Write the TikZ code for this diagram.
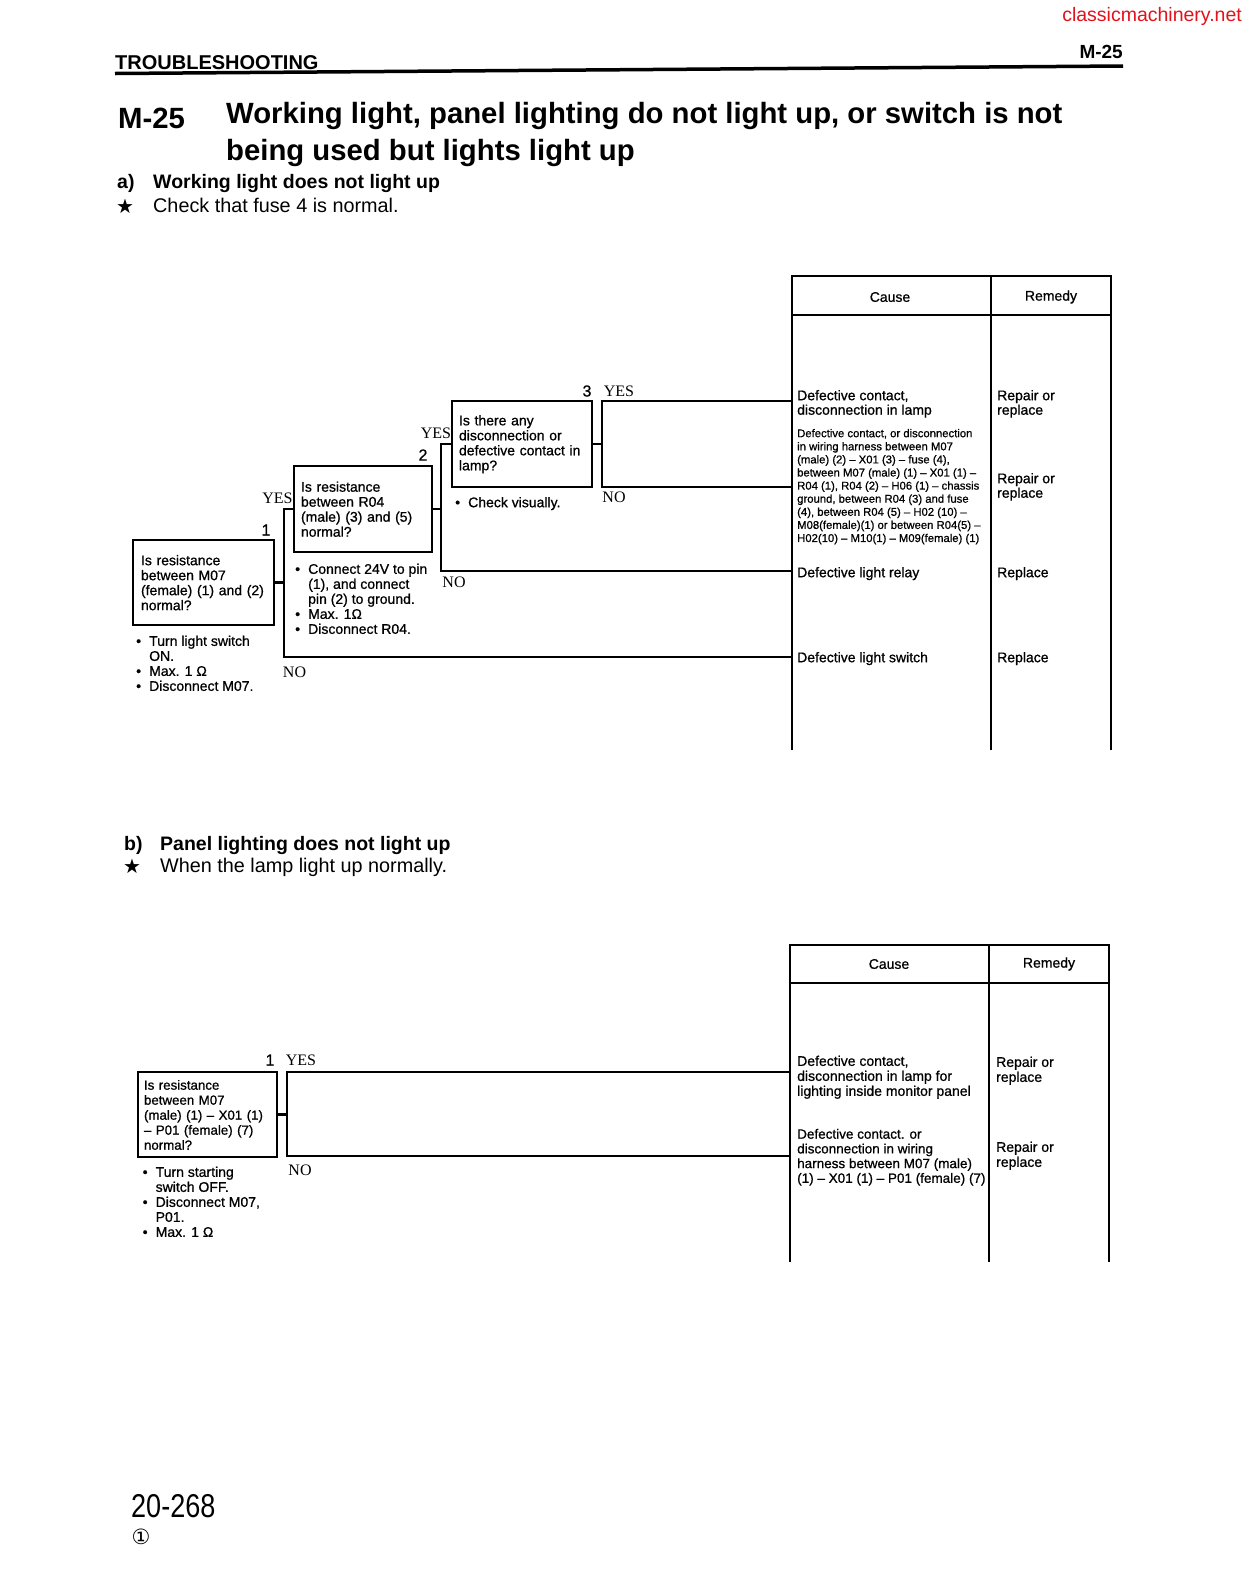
\documentclass[tikz,border=0pt]{standalone}
\usepackage{fontspec}
\setmainfont{Liberation Sans}
\newfontfamily\ynserif{Liberation Serif}
\newfontfamily\narrowfont[FakeStretch=0.82]{Liberation Sans}
\newfontfamily\medfont[FakeBold=0.8]{Liberation Sans}
\newfontfamily\symfont{DejaVu Sans}
\definecolor{wmred}{RGB}{226,18,28}
\newcommand\boxfont{\medfont\fontsize{14}{15}\selectfont}
\newcommand\causefont{\medfont\fontsize{14}{14.5}\selectfont}
\newcommand\smallfont{\medfont\fontsize{11.3}{13.1}\selectfont}
\newcommand\ynfont{\ynserif\fontsize{16}{16}\selectfont}
\newcommand\bul{\makebox[13pt][l]{\textbullet}}
\newcommand\ind{\hspace*{13pt}}
\tikzset{
  qbox/.style={draw, line width=2.7pt, outer sep=0pt, inner ysep=0pt, align=left,
    font=\boxfont, anchor=north west, execute at begin node=\strut},
  txt/.style={inner sep=0pt, anchor=north west, align=left, execute at begin node=\strut},
  yn/.style={font=\ynfont, inner sep=0pt},
  num/.style={font=\medfont\fontsize{16}{16}\selectfont, inner sep=0pt},
  link/.style={line width=2.2pt},
  tab/.style={line width=2.4pt},
}
\begin{document}
\begin{tikzpicture}[x=1pt,y=-1pt]
  \path[fill=white, use as bounding box] (0,0) rectangle (1252,1596);
  % page head
  \node[anchor=base east, text=wmred, inner sep=0pt, font=\fontsize{19.5}{19.5}\selectfont] (site) at (1242,21) {classicmachinery.net};
  \node[anchor=base west, inner sep=0pt, font=\bfseries\fontsize{20}{20}\selectfont] (head) at (115,69) {TROUBLESHOOTING};
  \node[anchor=base east, inner sep=0pt, font=\bfseries\fontsize{19}{19}\selectfont] (code) at (1123,58) {M-25};
  \draw[line width=3.5pt] (115,73.5) -- (1123,66);
  \node[anchor=base west, inner sep=0pt, font=\bfseries\fontsize{29.3}{37}\selectfont] (tcode) at (118,128) {M-25};
  \node[txt, font=\bfseries\fontsize{29.3}{37}\selectfont] (title) at (226,102.1) {Working light, panel lighting do not light up, or switch is not\\being used but lights light up};
  \node[anchor=base west, inner sep=0pt, font=\bfseries\fontsize{19.5}{19.5}\selectfont] (pa) at (117,188) {a)};
  \node[anchor=base west, inner sep=0pt, font=\bfseries\fontsize{19.5}{19.5}\selectfont] (pahead) at (153,188) {Working light does not light up};
  \node[anchor=base west, inner sep=0pt, font=\symfont\fontsize{20}{20}\selectfont] (pastar) at (116,213) {★};
  \node[anchor=base west, inner sep=0pt, font=\fontsize{19.8}{19.8}\selectfont] (panote) at (153,212) {Check that fuse 4 is normal.};

  % a) table
  \draw[tab] (792,750) -- (792,276) -- (1111,276) -- (1111,750);
  \draw[tab] (991,276) -- (991,750);
  \draw[tab] (792,315) -- (1111,315);
  \node[font=\causefont, inner sep=0pt] (hcause) at (890,297) {Cause};
  \node[font=\causefont, inner sep=0pt] (hremedy) at (1051,297) {Remedy};
  \node[txt, font=\causefont] (c1) at (797,389.85) {Defective contact,\\disconnection in lamp};
  \node[txt, font=\causefont] (r1) at (997,389.85) {Repair or\\replace};
  \node[txt, font=\smallfont] (c2) at (797,428.8) {Defective contact, or disconnection\\in wiring harness between M07\\(male) (2) – X01 (3) – fuse (4),\\between M07 (male) (1) – X01 (1) –\\R04 (1), R04 (2) – H06 (1) – chassis\\ground, between R04 (3) and fuse\\(4), between R04 (5) – H02 (10) –\\M08(female)(1) or between R04(5) –\\H02(10) – M10(1) – M09(female) (1)};
  \node[txt, font=\causefont] (r2) at (997,472.85) {Repair or\\replace};
  \node[txt, font=\causefont] (c3) at (797,566.85) {Defective light relay};
  \node[txt, font=\causefont] (r3) at (997,566.85) {Replace};
  \node[txt, font=\causefont] (c4) at (797,651.85) {Defective light switch};
  \node[txt, font=\causefont] (r4) at (997,651.85) {Replace};
  \coordinate (ta1) at (792,401);
  \coordinate (ta2) at (792,487);
  \coordinate (ta3) at (792,571);
  \coordinate (ta4) at (792,657);

  % a) checks
  \node[qbox, inner xsep=8pt, text width=125pt, minimum height=85pt] (q1) at (133,540) {Is resistance\\between M07\\(female) (1) and (2)\\normal?};
  \node[txt, font=\boxfont] (n1) at (136,635.5) {\bul Turn light switch\\\ind ON.\\\bul Max. 1 Ω\\\bul Disconnect M07.};
  \node[qbox, inner xsep=7pt, text width=124pt, minimum height=86pt] (q2) at (294,466) {Is resistance\\between R04\\(male) (3) and (5)\\normal?};
  \node[txt, font=\boxfont] (n2) at (295,563.5) {\bul Connect 24V to pin\\\ind (1), and connect\\\ind pin (2) to ground.\\\bul Max. 1Ω\\\bul Disconnect R04.};
  \node[qbox, inner xsep=7pt, text width=126pt, minimum height=86pt] (q3) at (452,401) {Is there any\\disconnection or\\defective contact in\\lamp?};
  \node[txt, font=\boxfont] (n3) at (455,496.5) {\bul Check visually.};
  \coordinate (s1) at (284,0);
  \coordinate (s2) at (441,0);
  \coordinate (s3) at (602,0);
  \draw[link] (q1.east) -- (q1.east -| s1);
  \draw[link] (q2.west) -| (ta4 -| s1) -- (ta4);
  \draw[link] (q2.east) -- (q2.east -| s2);
  \draw[link] (q3.west) -| (ta3 -| s2) -- (ta3);
  \draw[link] (q3.east) -- (q3.east -| s3);
  \draw[link] (ta1) -- (ta1 -| s3) -- (ta2 -| s3) -- (ta2);
  \node[num] (k1) at (266,530) {1};
  \node[num] (k2) at (423,455) {2};
  \node[num] (k3) at (587,391) {3};
  \node[yn] (y1) at (277.5,498) {YES};
  \node[yn] (m1) at (294.5,672) {NO};
  \node[yn] (y2) at (436,433) {YES};
  \node[yn] (m2) at (454,582) {NO};
  \node[yn] (y3) at (619,391) {YES};
  \node[yn] (m3) at (614,497) {NO};

  % b) panel lighting
  \node[anchor=base west, inner sep=0pt, font=\bfseries\fontsize{19.5}{19.5}\selectfont] (pb) at (124,850) {b)};
  \node[anchor=base west, inner sep=0pt, font=\bfseries\fontsize{19.5}{19.5}\selectfont] (pbhead) at (160,850) {Panel lighting does not light up};
  \node[anchor=base west, inner sep=0pt, font=\symfont\fontsize{20}{20}\selectfont] (pbstar) at (123,873) {★};
  \node[anchor=base west, inner sep=0pt, font=\fontsize{19.8}{19.8}\selectfont] (pbnote) at (160,872) {When the lamp light up normally.};
  \draw[tab] (790,1262) -- (790,945) -- (1109,945) -- (1109,1262);
  \draw[tab] (989,945) -- (989,1262);
  \draw[tab] (790,983) -- (1109,983);
  \node[font=\causefont, inner sep=0pt] (hbcause) at (889,964) {Cause};
  \node[font=\causefont, inner sep=0pt] (hbremedy) at (1049,964) {Remedy};
  \node[txt, font=\boxfont] (cb1) at (797,1055.5) {Defective contact,\\disconnection in lamp for\\lighting inside monitor panel};
  \node[txt, font=\boxfont] (rb1) at (996,1056.5) {Repair or\\replace};
  \node[txt, font=\medfont\fontsize{13.5}{14.7}\selectfont] (cb2) at (797,1128.7) {Defective contact. or\\disconnection in wiring\\harness between M07 (male)\\(1) – X01 (1) – P01 (female) (7)};
  \node[txt, font=\boxfont] (rb2) at (996,1141.5) {Repair or\\replace};
  \coordinate (tb1) at (790,1072);
  \coordinate (tb2) at (790,1156);
  \node[qbox, inner xsep=6pt, text width=127pt, minimum height=85pt, font=\medfont\fontsize{13.3}{15}\selectfont] (qb) at (138,1072) {Is resistance\\between M07\\(male) (1) – X01 (1)\\– P01 (female) (7)\\normal?};
  \node[txt, font=\boxfont] (nb) at (142.5,1166.5) {\bul Turn starting\\\ind switch OFF.\\\bul Disconnect M07,\\\ind P01.\\\bul Max. 1 Ω};
  \coordinate (s4) at (287,0);
  \draw[link] (qb.east) -- (qb.east -| s4);
  \draw[link] (tb1) -- (tb1 -| s4) -- (tb2 -| s4) -- (tb2);
  \node[num] (kb) at (270,1060) {1};
  \node[yn] (yb) at (301,1060) {YES};
  \node[yn] (mb) at (300,1170) {NO};

  % page foot
  \node[anchor=base west, inner sep=0pt, font=\narrowfont\fontsize{33}{33}\selectfont] (page) at (131,1517) {20-268};
  \node[inner sep=0pt, font=\symfont\fontsize{21}{21}\selectfont] (rev) at (141,1537) {①};
\end{tikzpicture}
\end{document}
